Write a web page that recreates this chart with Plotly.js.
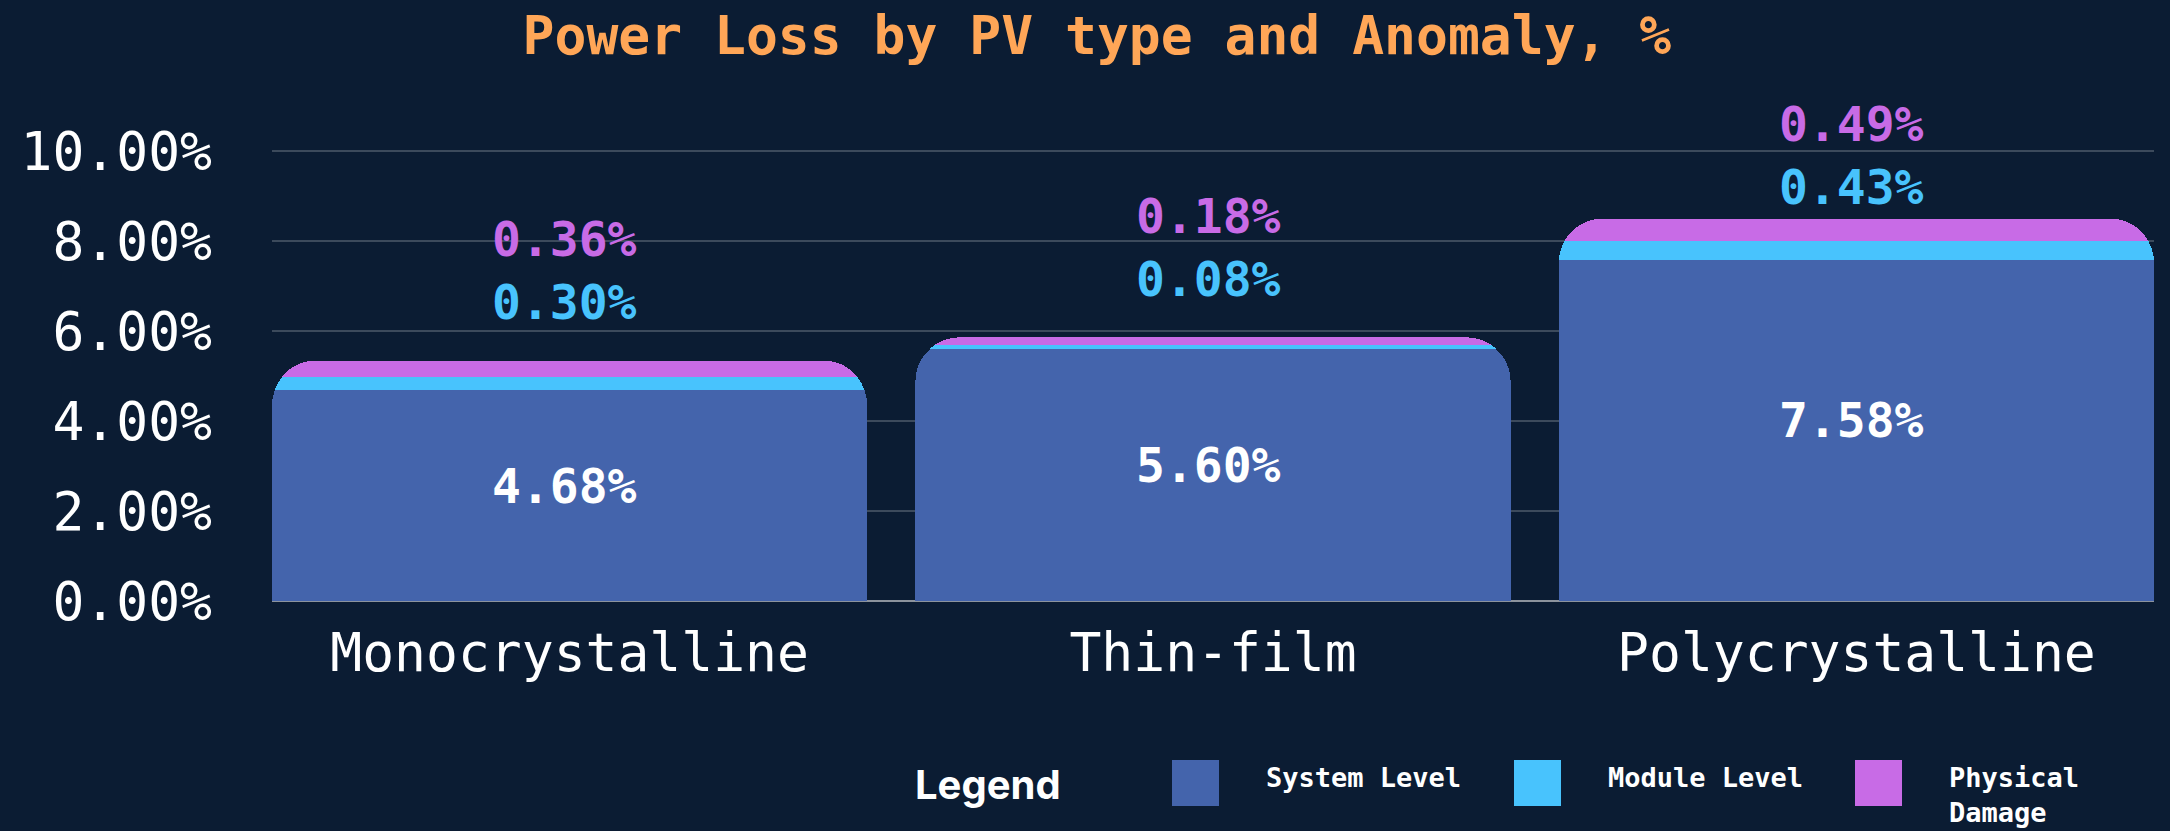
<!DOCTYPE html>
<html>
<head>
<meta charset="utf-8">
<script src="https://cdn.plot.ly/plotly-3.0.1.min.js"></script>
<style>
  html, body { margin: 0; padding: 0; background: #0b1c33; }
  #chart { width: 2170px; height: 831px; }
</style>
</head>
<body>
<div id="chart"></div>
<script>
// ---- data ----
const categories = ["Monocrystalline", "Thin-film", "Polycrystalline"];
const seriesNames = ["System Level", "Module Level", "Physical Damage"];
const systemLevel = [4.68, 5.60, 7.58];
const moduleLevel = [0.30, 0.08, 0.43];
const physicalDamage = [0.36, 0.18, 0.49];
const yTickValues = [0, 2, 4, 6, 8, 10];

// ---- style ----
const BG = "#0b1c33";
const colors = ["#4464ac", "#48c3fd", "#c86be6"];
const MONO = "'DejaVu Sans Mono', 'Liberation Mono', monospace";
const SANS = "Inter, Roboto, 'Noto Sans', sans-serif";

const W = 2170, H = 831;
const margin = { l: 272, r: 16, t: 106, b: 230 };
const plotW = W - margin.l - margin.r;
const plotH = H - margin.t - margin.b;
const bargap = 0.075;
const yMax = 11;

const fmt = v => v.toFixed(2) + "%";

const traces = [
  {
    type: "bar", name: seriesNames[0], x: categories, y: systemLevel,
    marker: { color: colors[0], line: { width: 0 } },
    textposition: "none", hoverinfo: "x+y+name"
  },
  {
    type: "bar", name: seriesNames[1], x: categories, y: moduleLevel,
    marker: { color: colors[1], line: { width: 0 } },
    textposition: "none", hoverinfo: "x+y+name"
  },
  {
    type: "bar", name: seriesNames[2], x: categories, y: physicalDamage,
    marker: { color: colors[2], line: { width: 0 } },
    textposition: "none", hoverinfo: "x+y+name"
  }
];

const annotations = [];
categories.forEach((c, i) => {
  // label inside the System Level segment
  annotations.push({
    x: c, y: systemLevel[i] / 2, xref: "x", yref: "y", showarrow: false,
    text: fmt(systemLevel[i]), yanchor: "middle", yshift: 10, xshift: -5,
    font: { family: MONO, size: 48, color: "#ffffff", weight: "bold" }
  });
  // value labels above each stack
  const total = systemLevel[i] + moduleLevel[i] + physicalDamage[i];
  const lower = Math.min(total + 1.3, 9.2);
  const upper = lower + 1.40;
  annotations.push({
    x: c, y: lower, xref: "x", yref: "y", showarrow: false, xshift: -5,
    text: fmt(moduleLevel[i]), yanchor: "middle",
    font: { family: MONO, size: 48, color: colors[1], weight: "bold" }
  });
  annotations.push({
    x: c, y: upper, xref: "x", yref: "y", showarrow: false, xshift: -5,
    text: fmt(physicalDamage[i]), yanchor: "middle",
    font: { family: MONO, size: 48, color: colors[2], weight: "bold" }
  });
});

// custom legend (pixel positions converted to paper coords)
const px = x => (x - margin.l) / plotW;
const py = y => (H - margin.b - y) / plotH;
const shapes = [];
annotations.push({
  xref: "paper", yref: "paper", x: px(913), y: py(784), xanchor: "left", yanchor: "middle",
  showarrow: false, text: "Legend",
  font: { family: SANS, size: 40, color: "#ffffff", weight: "bold" }
});
const swatchX = [1172, 1514, 1855];
const legendText = ["System Level", "Module Level", "Physical<br>Damage"];
seriesNames.forEach((n, i) => {
  shapes.push({
    type: "rect", xref: "paper", yref: "paper",
    x0: px(swatchX[i]), x1: px(swatchX[i] + 47), y0: py(760), y1: py(806),
    fillcolor: colors[i], line: { width: 0 }
  });
  annotations.push({
    xref: "paper", yref: "paper", x: px(swatchX[i] + 92), y: py(760),
    xanchor: "left", yanchor: "top", align: "left", showarrow: false,
    text: legendText[i],
    font: { family: MONO, size: 27, color: "#ffffff", weight: "bold" }
  });
});

const layout = {
  width: W, height: H,
  margin: margin,
  paper_bgcolor: BG, plot_bgcolor: BG,
  barmode: "stack", bargap: bargap, barcornerradius: 44,
  showlegend: false,
  title: {
    text: "Power Loss by PV type and Anomaly, %",
    font: { family: MONO, size: 53, color: "#ffa657", weight: "bold" },
    xref: "container", yref: "container", x: 0.5055, xanchor: "center",
    y: 1 - 35 / H, yanchor: "middle"
  },
  xaxis: {
    type: "category", categoryorder: "array", categoryarray: categories,
    range: [-0.5 + bargap / 2, categories.length - 0.5 - bargap / 2],
    showgrid: false, zeroline: false, showline: false, ticks: "",
    tickfont: { family: MONO, size: 53, color: "#ffffff" },
    ticklabelstandoff: 16
  },
  yaxis: {
    range: [0, yMax], tickmode: "array", tickvals: yTickValues,
    ticktext: yTickValues.map(fmt),
    showgrid: true, gridcolor: "#3c4a5c", gridwidth: 2,
    zeroline: true, zerolinecolor: "#8c939d", zerolinewidth: 2,
    showline: false, ticks: "",
    tickfont: { family: MONO, size: 53, color: "#ffffff" },
    ticklabelstandoff: 59
  },
  annotations: annotations,
  shapes: shapes
};

Plotly.newPlot("chart", traces, layout, { displayModeBar: false, staticPlot: true });
</script>
</body>
</html>
